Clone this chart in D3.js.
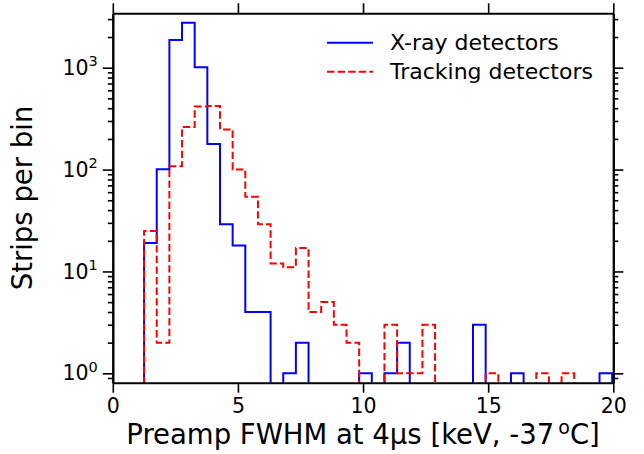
<!DOCTYPE html>
<html>
<head>
<meta charset="utf-8">
<script src="https://cdn.jsdelivr.net/npm/d3@7"></script>
<style>
    body { margin: 0; background: #fff; }
    svg { display: block; font-family: "DejaVu Sans", sans-serif; }
</style>
</head>
<body>
<div id="graph"></div>
<script>
"use strict";

// histogram bins (shared by both series), keV
const binLo = 1.25;
const binHi = 19.955;

// strips per bin
const xrayCounts = [19, 101, 1870, 2770, 1010, 178, 29, 18, 4, 4,
                    0, 1, 2, 0, 0, 0, 0, 1, 0, 1,
                    2, 0, 0, 0, 0, 0, 3, 0, 0, 1,
                    0, 0, 0, 0, 0, 0, 1];
const trackCounts = [25, 2, 108, 262, 415, 421, 248, 100, 54, 29,
                     12, 11, 17, 4, 5, 3, 2, 0, 0, 3,
                     1, 1, 3, 0, 0, 0, 0, 1, 0, 0,
                     0, 1, 0, 1, 0, 0, 0];

const xTicks = [0, 5, 10, 15, 20];
const yMajor = [1, 10, 100, 1000];
const yMinor = [0.9, 2, 3, 4, 5, 6, 7, 8, 9, 20, 30, 40, 50, 60, 70, 80, 90,
                200, 300, 400, 500, 600, 700, 800, 900, 2000, 3000];

const seriesNames = ["X-ray detectors", "Tracking detectors"];

(function() {
    const svgSize = { width: 644, height: 454 };
    const plot = { left: 112.8, right: 613.3, top: 13.3, bottom: 382.7 };

    const svg = d3.select("#graph")
        .append("svg")
            .attr("width", svgSize.width)
            .attr("height", svgSize.height);

    const xScale = d3.scaleLinear()
        .domain([0, 20])
        .range([plot.left, plot.right]);

    const yScale = d3.scaleLog()
        .domain([0.809, 3420])
        .range([plot.bottom, plot.top]);

    svg.append("clipPath")
        .attr("id", "plotclip")
        .append("rect")
            .attr("x", plot.left)
            .attr("y", plot.top)
            .attr("width", plot.right - plot.left)
            .attr("height", plot.bottom - plot.top);

    // step path like matplotlib histtype="step"; empty bins drop below the axis
    function stepPath(counts) {
        const w = (binHi - binLo) / counts.length;
        const floor = 0.3;
        const pts = [[binLo, floor]];
        counts.forEach((c, i) => {
            const v = c > 0 ? c : floor;
            pts.push([binLo + i * w, v]);
            pts.push([binLo + (i + 1) * w, v]);
        });
        pts.push([binHi, floor]);
        return d3.line()
            .x(d => xScale(d[0]))
            .y(d => yScale(d[1]))(pts);
    }

    const marks = svg.append("g").attr("clip-path", "url(#plotclip)");

    marks.append("path")
        .attr("d", stepPath(xrayCounts))
        .attr("fill", "none")
        .attr("stroke", "#0000ff")
        .attr("stroke-width", 2);

    marks.append("path")
        .attr("d", stepPath(trackCounts))
        .attr("fill", "none")
        .attr("stroke", "#ff0000")
        .attr("stroke-width", 2)
        .attr("stroke-dasharray", "7.4,3.2");

    // axes: ticks point outward on all four sides
    svg.append("g")
        .attr("transform", "translate(0," + plot.bottom + ")")
        .call(d3.axisBottom(xScale).tickValues(xTicks).tickSize(10).tickSizeOuter(0)
            .tickPadding(6).tickFormat(d3.format("d")));

    svg.append("g")
        .attr("transform", "translate(0," + plot.top + ")")
        .call(d3.axisTop(xScale).tickValues(xTicks).tickSize(10).tickSizeOuter(0)
            .tickFormat(""));

    const leftAxis = svg.append("g")
        .attr("transform", "translate(" + plot.left + ",0)")
        .call(d3.axisLeft(yScale).tickValues(yMajor).tickSize(10).tickSizeOuter(0)
            .tickPadding(5));

    svg.append("g")
        .attr("transform", "translate(" + plot.left + ",0)")
        .call(d3.axisLeft(yScale).tickValues(yMinor).tickSize(5).tickSizeOuter(0)
            .tickFormat(""));

    svg.append("g")
        .attr("transform", "translate(" + plot.right + ",0)")
        .call(d3.axisRight(yScale).tickValues(yMajor).tickSize(10).tickSizeOuter(0)
            .tickFormat(""));

    svg.append("g")
        .attr("transform", "translate(" + plot.right + ",0)")
        .call(d3.axisRight(yScale).tickValues(yMinor).tickSize(5).tickSizeOuter(0)
            .tickFormat(""));

    svg.selectAll(".domain")
        .attr("stroke", "#000")
        .attr("stroke-width", 2);
    svg.selectAll(".tick line")
        .attr("stroke", "#000")
        .attr("stroke-width", 1.6);
    svg.selectAll(".tick text")
        .attr("fill", "#000")
        .attr("font-family", "DejaVu Sans")
        .attr("font-size", 20.5);

    // 10^n labels
    leftAxis.selectAll(".tick text")
        .each(function(d) {
            const t = d3.select(this);
            t.text(null);
            t.append("tspan").text("10");
            t.append("tspan")
                .attr("font-size", 14.5)
                .attr("dy", "-0.6em")
                .text(Math.round(Math.log10(d)));
        });

    // axis titles
    const xl = svg.append("text")
        .attr("x", (plot.left + plot.right) / 2)
        .attr("y", 443.5)
        .attr("text-anchor", "middle")
        .attr("font-size", 27.5)
        .attr("fill", "#000");
    xl.append("tspan").text("Preamp FWHM at 4\u03bcs [keV, -37");
    xl.append("tspan").attr("font-size", 19).attr("dx", 4).attr("dy", -10).text("o");
    xl.append("tspan").attr("dy", 10).text("C]");

    svg.append("text")
        .attr("transform", "translate(32," + (plot.top + plot.bottom) / 2 + ") rotate(-90)")
        .attr("text-anchor", "middle")
        .attr("font-size", 27.5)
        .attr("fill", "#000")
        .text("Strips per bin");

    // legend
    const legend = svg.append("g");
    const legendRows = [
        { name: seriesNames[0], color: "#0000ff", dash: null, y: 42.7 },
        { name: seriesNames[1], color: "#ff0000", dash: "7.4,3.2", y: 71.7 },
    ];
    legendRows.forEach((r) => {
        legend.append("line")
            .attr("x1", 327).attr("x2", 373)
            .attr("y1", r.y).attr("y2", r.y)
            .attr("stroke", r.color)
            .attr("stroke-width", 2)
            .attr("stroke-dasharray", r.dash);
        legend.append("text")
            .attr("x", 390)
            .attr("y", r.y + 7.7)
            .attr("font-size", 22)
            .attr("fill", "#000")
            .text(r.name);
    });
})();
</script>
</body>
</html>
